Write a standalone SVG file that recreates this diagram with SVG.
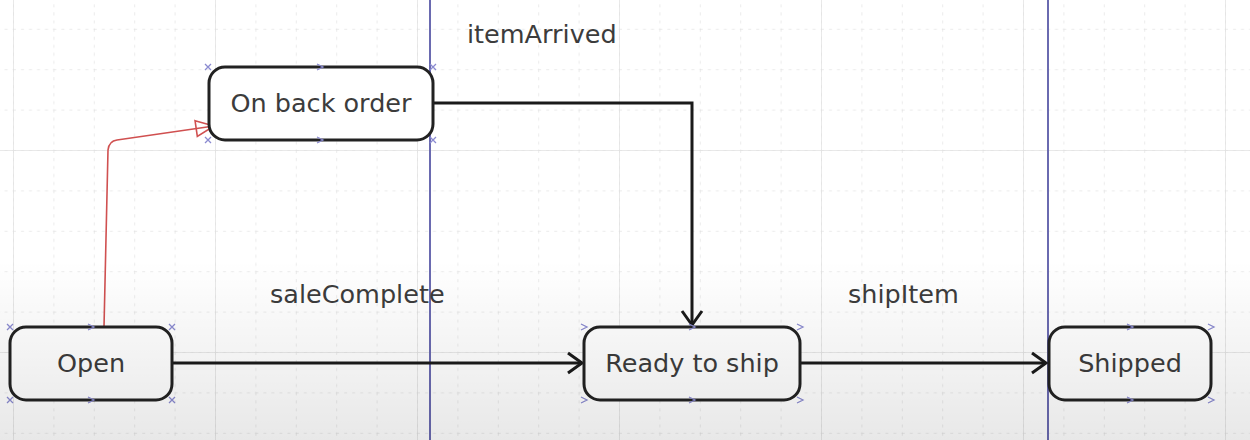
<svg xmlns="http://www.w3.org/2000/svg" width="1250" height="440" viewBox="0 0 1250 440">
  <style>
    .node rect { fill: #ffffff; stroke: #222222; stroke-width: 3; }
    .node text, .label { font-family: "DejaVu Sans", "Liberation Sans", sans-serif; font-size: 25.5px; fill: #3c3c3c; }
    .node text { text-anchor: middle; }
    .edge { fill: none; stroke: #1a1a1a; stroke-width: 3; }
    .red { fill: none; stroke: #d05050; stroke-width: 1.6; }
    .lane { stroke: #6a6ab0; stroke-width: 2; }
    .hook { stroke: #8a8ad0; stroke-width: 1.3; fill: none; }
  </style>
  <defs>
    <pattern id="minor" x="13" y="28.8" width="40.4" height="40.4" patternUnits="userSpaceOnUse">
      <line x1="0" y1="0" x2="40.4" y2="0" stroke="#d8d8d8" stroke-width="1" stroke-dasharray="3,5"/>
      <line x1="0" y1="0" x2="0" y2="40.4" stroke="#d8d8d8" stroke-width="1" stroke-dasharray="3,5"/>
    </pattern>
    <pattern id="major" x="13" y="150" width="202" height="202" patternUnits="userSpaceOnUse">
      <line x1="0" y1="0" x2="202" y2="0" stroke="#e2e2e2" stroke-width="1.5"/>
      <line x1="0" y1="0" x2="0" y2="202" stroke="#e2e2e2" stroke-width="1.5"/>
    </pattern>
    <linearGradient id="shade" x1="0" y1="0" x2="0" y2="1">
      <stop offset="0" stop-color="#000" stop-opacity="0"/>
      <stop offset="1" stop-color="#000" stop-opacity="0.09"/>
    </linearGradient>
    <marker id="arrow" markerUnits="userSpaceOnUse" markerWidth="20" markerHeight="24" refX="16" refY="12" orient="auto">
      <path d="M2,2 L16,12 L2,22" fill="none" stroke="#1a1a1a" stroke-width="3"/>
    </marker>
    <marker id="redtri" markerUnits="userSpaceOnUse" markerWidth="24" markerHeight="22" refX="20" refY="11" orient="auto">
      <path d="M2,3 L20,11 L2,19 Z" fill="none" stroke="#d05050" stroke-width="1.6"/>
    </marker>
  </defs>

  <rect width="1250" height="440" fill="#ffffff"/>
  <rect width="1250" height="440" fill="url(#minor)"/>
  <rect width="1250" height="440" fill="url(#major)"/>

  <line class="lane" x1="430" y1="0" x2="430" y2="440"/>
  <line class="lane" x1="1048" y1="0" x2="1048" y2="440"/>

  <g id="connectors">
    <path class="red" d="M104,327 L108,150 Q109,141 117,140 L214,126" marker-end="url(#redtri)"/>
    <path class="edge" d="M434,103 L692,103 L692,325" marker-end="url(#arrow)"/>
    <path class="edge" d="M172,363 L582,363" marker-end="url(#arrow)"/>
    <path class="edge" d="M800,363 L1046,363" marker-end="url(#arrow)"/>
  </g>

  <g id="labels">
    <text class="label" x="467" y="43">itemArrived</text>
    <text class="label" x="270" y="303">saleComplete</text>
    <text class="label" x="848" y="303">shipItem</text>
  </g>

  <g id="node-onbackorder" class="node">
    <rect x="209" y="67" width="224" height="73" rx="16"/>
    <text x="321" y="112">On back order</text>
  </g>
  <g id="node-open" class="node">
    <rect x="10" y="327" width="162" height="73" rx="16"/>
    <text x="91" y="372">Open</text>
  </g>
  <g id="node-readytoship" class="node">
    <rect x="584" y="327" width="216" height="73" rx="16"/>
    <text x="692" y="372">Ready to ship</text>
  </g>
  <g id="node-shipped" class="node">
    <rect x="1049" y="327" width="162" height="73" rx="16"/>
    <text x="1130" y="372">Shipped</text>
  </g>

  <g id="hooks" class="hook">
    <path d="M205,64 l6,6 M211,64 l-6,6 M317,64 l6,3 l-6,3 M430,64 l6,6 M436,64 l-6,6 M205,137 l6,6 M211,137 l-6,6 M317,137 l6,3 l-6,3 M430,137 l6,6 M436,137 l-6,6"/>
    <path d="M7,324 l6,6 M13,324 l-6,6 M88,324 l6,3 l-6,3 M169,324 l6,6 M175,324 l-6,6 M7,397 l6,6 M13,397 l-6,6 M88,397 l6,3 l-6,3 M169,397 l6,6 M175,397 l-6,6"/>
    <path d="M581,324 l6,3 l-6,3 M689,324 l6,3 l-6,3 M797,324 l6,3 l-6,3 M581,397 l6,3 l-6,3 M689,397 l6,3 l-6,3 M797,397 l6,3 l-6,3"/>
    <path d="M1127,324 l6,3 l-6,3 M1208,324 l6,3 l-6,3 M1127,397 l6,3 l-6,3 M1208,397 l6,3 l-6,3"/>
  </g>

  <rect x="0" y="260" width="1250" height="180" fill="url(#shade)"/>
</svg>
